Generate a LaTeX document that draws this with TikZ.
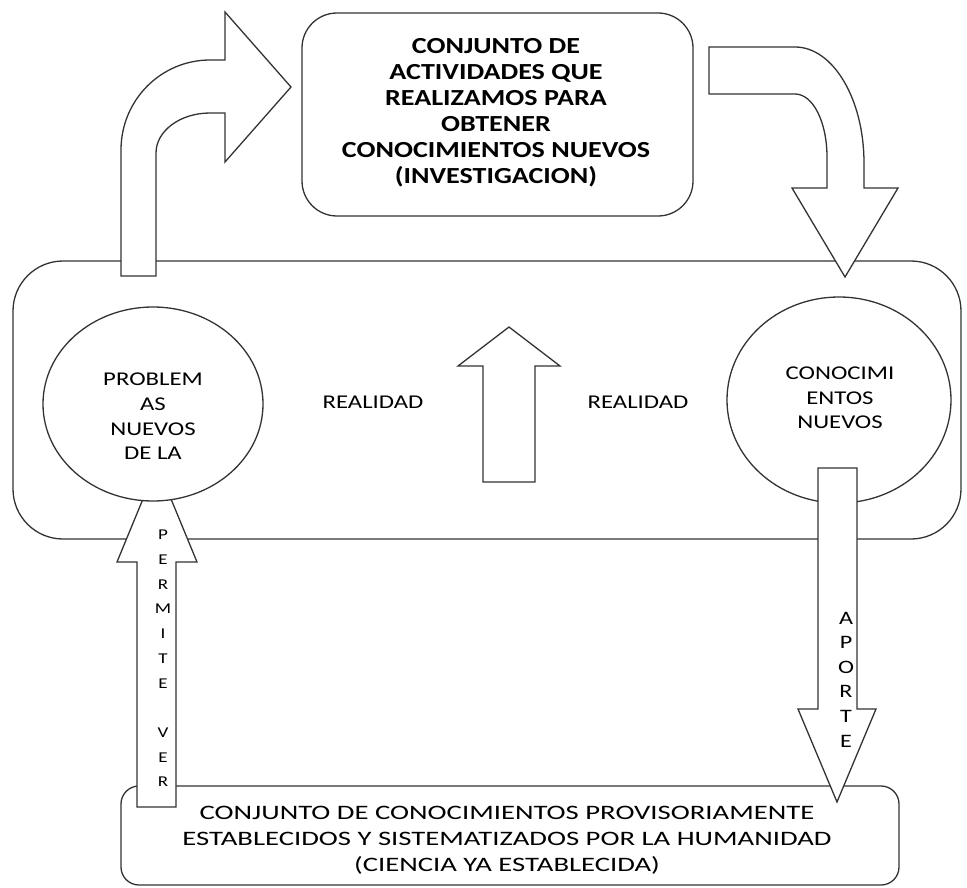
\documentclass[tikz,border=0pt]{standalone}
\usepackage{fontspec}
\setmainfont{Carlito}
\newfontfamily\widefont[FakeStretch=1.27]{Carlito}
\newfontfamily\topfont[FakeStretch=1.22]{Carlito}
\newfontfamily\botfont[FakeStretch=1.4]{Carlito}
\usetikzlibrary{shapes.geometric}
\begin{document}
\begin{tikzpicture}[x=1pt,y=-1pt,
  line/.style={draw=black!80, line width=1.3pt, line join=miter},
  blk/.style={line, fill=white},
  box/.style={line, fill=white, inner sep=0pt, outer sep=0pt},
  circ/.style={line, fill=white, ellipse, inner sep=0pt, outer sep=0pt},
  midtxt/.style={align=center, inner sep=0pt, font=\widefont\fontsize{19.5}{24.7}\selectfont},
  vert/.style={align=center, inner sep=0pt},
]
\useasboundingbox (0,0) rectangle (967,888);

% central rounded box (realidad)
\node[box, rounded corners=50pt, minimum width=948pt, minimum height=278pt] (mid) at (487,400) {};

% bottom box
\node[box, rounded corners=18pt, minimum width=778pt, minimum height=99pt] (bot) at (510,835.5) {};
\node[align=center, inner sep=0pt, font=\botfont\fontsize{20.5}{26}\selectfont] (botT) at (507,840)
  {CONJUNTO DE CONOCIMIENTOS PROVISORIAMENTE\\ESTABLECIDOS Y SISTEMATIZADOS POR LA HUMANIDAD\\(CIENCIA YA ESTABLECIDA)};

% top box
\node[box, rounded corners=35pt, minimum width=391pt, minimum height=203pt] (top) at (497.5,114.5) {};
\node[align=center, inner sep=0pt, font=\topfont\bfseries\fontsize{23}{26}\selectfont] (topT) at (496,113)
  {CONJUNTO DE\\ACTIVIDADES QUE\\REALIZAMOS PARA\\OBTENER\\CONOCIMIENTOS NUEVOS\\(INVESTIGACION)};

% curved arrow: left, up and right to the top box
\draw[blk] (121,276) -- (121,150) .. controls (121,100) and (161,60) .. (210,60)
  -- (225,60) -- (225,12) -- (291,87) -- (225,162) -- (225,113) -- (210,113)
  .. controls (180,113) and (156,131) .. (156,153) -- (156,276) -- cycle;

% curved arrow: from top box down to the right circle
\draw[blk] (709,47) -- (795,47) .. controls (833,47) and (864,99) .. (864,163)
  -- (864,188) -- (898,188) -- (845,277) -- (792,188) -- (827,188) -- (827,157)
  .. controls (827,122) and (813,94) .. (795,94) -- (709,94) -- cycle;

% middle up arrow
\draw[blk] (483,482) -- (483,366) -- (458,366) -- (509,327) -- (560,366)
  -- (535,366) -- (535,482) -- cycle;

% left up arrow (permite ver)
\draw[blk] (137,807) -- (137,562) -- (117,562) -- (157,465) -- (197,562)
  -- (176,562) -- (176,807) -- cycle;

% circles
\node[circ, minimum width=220pt, minimum height=194pt] (lc) at (153,404) {};
\node[circ, minimum width=224pt, minimum height=206pt] (rc) at (839,400) {};

% right down arrow (aporte)
\draw[blk] (818,468) -- (857,468) -- (857,709) -- (876,709) -- (837,802)
  -- (798,709) -- (818,709) -- cycle;

% texts
\node[midtxt] (lct) at (153,416.5) {PROBLEM\\AS\\NUEVOS\\DE LA};
\node[midtxt] (rct) at (840,398) {CONOCIMI\\ENTOS\\NUEVOS};
\node[midtxt] (real1) at (373,402) {REALIDAD};
\node[midtxt] (real2) at (638,402) {REALIDAD};
\node[vert, font=\widefont\fontsize{15}{24.7}\selectfont] (perm) at (163,658.5)
  {P\\E\\R\\M\\I\\T\\E\\~\\V\\E\\R};
\node[vert, font=\widefont\fontsize{19}{24.6}\selectfont] (apor) at (846,679.5)
  {A\\P\\O\\R\\T\\E};
\end{tikzpicture}
\end{document}
